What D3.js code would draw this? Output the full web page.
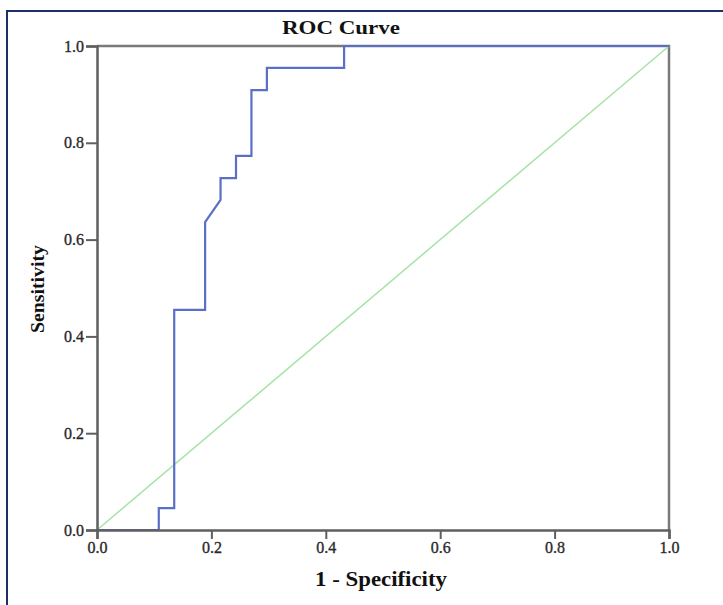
<!DOCTYPE html>
<html lang="en">
<head>
    <meta charset="UTF-8">
    <title>ROC Curve</title>
    <script src="https://d3js.org/d3.v7.min.js"></script>
    <style>
        body { margin: 0; background: #fff; }
        text { font-family: "Liberation Serif", "Times New Roman", serif; }
    </style>
</head>
<body>
    <svg width="723" height="605"></svg>

    <script>
        // ROC points (1 - specificity, sensitivity)
        const fpr = [0, 0.108, 0.108, 0.135, 0.135, 0.189, 0.189, 0.216, 0.216, 0.243, 0.243, 0.270, 0.270, 0.297, 0.297, 0.432, 0.432, 1.0];
        const tpr = [0, 0, 0.045, 0.045, 0.455, 0.455, 0.636, 0.682, 0.727, 0.727, 0.773, 0.773, 0.909, 0.909, 0.955, 0.955, 1.0, 1.0];
        const ticks = [0, 0.2, 0.4, 0.6, 0.8, 1.0];
        const refLine = [[0, 0], [1, 1]];

        const margin = { top: 46, right: 54, bottom: 75, left: 97 },
              width = 723 - margin.left - margin.right,
              height = 605 - margin.top - margin.bottom;

        const svg = d3.select("svg");

        // outer frame
        svg.append("rect")
           .attr("x", 7).attr("y", 11)
           .attr("width", 730).attr("height", 610)
           .attr("fill", "none")
           .attr("stroke", "#1d2f6b")
           .attr("stroke-width", 2);

        const g = svg.append("g")
                     .attr("transform", `translate(${margin.left},${margin.top})`);

        const x = d3.scaleLinear().domain([0, 1]).range([0, width]);
        const y = d3.scaleLinear().domain([0, 1]).range([height, 0]);

        // top and right frame of the plot
        g.append("path")
         .attr("d", `M0,0H${width}V${height}`)
         .attr("fill", "none")
         .attr("stroke", "#7a7a7a")
         .attr("stroke-width", 2.5);

        // diagonal reference
        g.append("path")
         .datum(refLine)
         .attr("d", d3.line().x(d => x(d[0])).y(d => y(d[1])))
         .attr("fill", "none")
         .attr("stroke", "#a6e3a6")
         .attr("stroke-width", 1.5);

        // ROC curve
        const pts = fpr.map((v, i) => [v, tpr[i]]);
        g.append("path")
         .datum(pts)
         .attr("d", d3.line().x(d => x(d[0])).y(d => y(d[1])))
         .attr("fill", "none")
         .attr("stroke", "#5a6fc6")
         .attr("stroke-width", 2.2);

        // axes
        const xAxis = g.append("g")
           .attr("transform", `translate(0,${height})`)
           .call(d3.axisBottom(x).tickValues(ticks).tickFormat(d3.format(".1f")).tickSize(9).tickPadding(3));
        const yAxis = g.append("g")
           .call(d3.axisLeft(y).tickValues(ticks).tickFormat(d3.format(".1f")).tickSize(11).tickPadding(2));

        [xAxis, yAxis].forEach(a => {
            a.attr("font-size", 16).attr("font-family", "'Liberation Serif', serif");
            a.select(".domain").attr("stroke", "#5f5f5f").attr("stroke-width", 2.5);
            a.selectAll(".tick line").attr("stroke", "#5f5f5f").attr("stroke-width", 2);
            a.selectAll(".tick text")
             .attr("fill", "#2a2a2a")
             .attr("stroke", "#2a2a2a")
             .attr("stroke-width", 0.35);
        });

        // title
        svg.append("text")
           .attr("x", 341).attr("y", 34)
           .attr("text-anchor", "middle")
           .attr("textLength", 118)
           .attr("lengthAdjust", "spacingAndGlyphs")
           .style("font-size", "19px")
           .style("font-weight", "bold")
           .attr("fill", "#111")
           .text("ROC Curve");

        // axis titles
        svg.append("text")
           .attr("x", 381).attr("y", 586)
           .attr("text-anchor", "middle")
           .attr("textLength", 132)
           .attr("lengthAdjust", "spacingAndGlyphs")
           .style("font-size", "20px")
           .style("font-weight", "bold")
           .attr("fill", "#111")
           .text("1 - Specificity");

        svg.append("text")
           .attr("transform", "translate(44,289) rotate(-90)")
           .attr("text-anchor", "middle")
           .attr("textLength", 88)
           .attr("lengthAdjust", "spacingAndGlyphs")
           .style("font-size", "18px")
           .style("font-weight", "bold")
           .attr("fill", "#111")
           .text("Sensitivity");
    </script>
</body>
</html>
